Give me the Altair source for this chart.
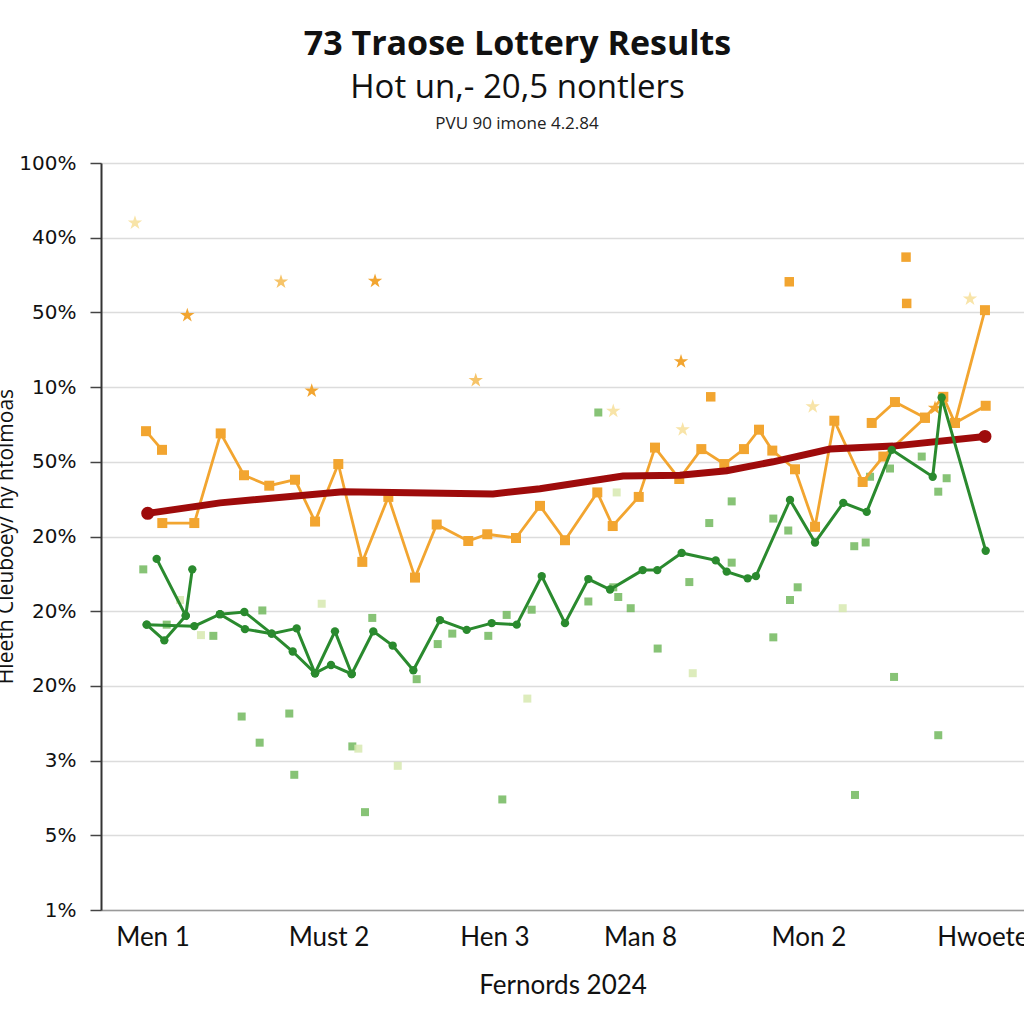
import altair as alt
import pandas as pd

# ---------------- text ----------------
TITLE = "73 Traose Lottery Results"
SUBTITLE = "Hot un,- 20,5 nontlers"
NOTE = "PVU 90 imone 4.2.84"
X_TITLE = "Fernords 2024"
Y_TITLE = "Hleeth Cleuboey/ hy htolmoas"

X_TICKS = [5.58, 24.65, 42.63, 58.40, 76.65, 95.5]
X_LABELS = ["Men 1", "Must 2", "Hen 3", "Man 8", "Mon 2", "Hwoete"]
Y_TICKS = list(range(11))
Y_LABELS = ["1%", "5%", "3%", "20%", "20%", "20%", "50%", "10%", "50%", "40%", "100%"]

# ---------------- data ----------------
RED_X = [5.06, 12.89, 26.22, 42.47, 47.56, 56.55, 62.73, 67.79, 72.81, 78.98, 85.81, 95.77]
RED_Y = [5.31, 5.45, 5.60, 5.57, 5.64, 5.81, 5.82, 5.88, 6.00, 6.17, 6.21, 6.34]

ORANGE_X = [4.88, 6.61,
            6.64, 10.11, 12.97, 15.49, 18.23, 21.02, 23.19, 25.71, 28.31, 31.13, 34.02, 36.37,
            39.79, 41.85, 44.96, 47.56, 50.27, 53.77, 55.44, 58.26, 60.02, 62.65, 65.04, 67.53,
            69.66, 71.29, 72.73, 75.19, 77.36, 79.45, 82.52, 84.76, 89.27, 91.26, 92.52, 95.77,
            83.50, 86.02, 89.27,
            92.52, 95.85]
ORANGE_Y = [6.41, 6.16,
            5.18, 5.18, 6.38, 5.82, 5.68, 5.76, 5.20, 5.97, 4.66, 5.53, 4.45, 5.16,
            4.94, 5.03, 4.98, 5.41, 4.95, 5.59, 5.14, 5.53, 6.19, 5.77, 6.17, 5.97,
            6.17, 6.43, 6.15, 5.90, 5.13, 6.55, 5.73, 6.07, 6.59, 6.87, 6.52, 8.03,
            6.52, 6.80, 6.59,
            6.52, 6.75]
ORANGE_RUN = ["a"] * 2 + ["b"] * 36 + ["c"] * 3 + ["d"] * 2

GREEN_X = [6.03, 9.18, 9.89,
           4.95, 6.86, 9.18,
           4.95, 10.11, 12.89, 15.53, 18.49, 20.77, 23.19, 24.92, 27.16, 29.50, 31.60, 33.84,
           36.73, 39.62, 42.33, 45.04, 47.75, 50.27, 52.80, 55.15, 58.69, 60.27, 62.91, 66.60,
           67.79, 70.06, 70.96, 74.65, 77.36, 80.42, 82.96, 85.67, 90.11, 91.08, 95.85,
           12.89, 15.60, 18.49, 21.20, 23.19, 25.35, 27.16]
GREEN_Y = [4.70, 3.94, 4.56,
           3.82, 3.61, 3.94,
           3.82, 3.80, 3.96, 3.99, 3.70, 3.46, 3.17, 3.28, 3.16, 3.73, 3.54, 3.21,
           3.88, 3.75, 3.84, 3.82, 4.47, 3.84, 4.43, 4.29, 4.55, 4.55, 4.78, 4.68,
           4.53, 4.44, 4.47, 5.49, 4.92, 5.45, 5.33, 6.16, 5.80, 6.86, 4.81,
           3.96, 3.76, 3.70, 3.77, 3.17, 3.73, 3.16]
GREEN_RUN = ["a"] * 3 + ["b"] * 3 + ["c"] * 35 + ["d"] * 7

ORANGE_SC_X = [3.68, 9.35, 19.50, 29.69, 22.83, 40.60, 74.57, 87.22, 87.29, 94.15,
               62.84, 66.06, 55.50, 63.02, 77.11, 90.36]
ORANGE_SC_Y = [9.20, 7.96, 8.41, 8.42, 6.95, 7.09, 8.41, 8.74, 8.12, 8.18,
               7.34, 6.87, 6.68, 6.43, 6.74, 6.72]
ORANGE_SC_SHAPE = ["star", "star", "star", "star", "star", "star", "square", "square", "square", "star",
                   "star", "square", "star", "star", "star", "star"]
ORANGE_SC_TONE = ["pale", "mid", "light", "mid", "mid", "light", "mid", "mid", "mid", "pale",
                  "mid", "mid", "pale", "pale", "pale", "mid"]

GREEN_SC_X = [4.58, 8.56, 7.12, 10.83, 12.17, 17.48, 23.91, 15.24, 20.40, 17.19, 20.94, 27.23,
              27.88, 28.60, 32.15, 29.39, 34.20, 36.48, 38.06, 41.96, 43.95, 46.66, 43.48, 46.19,
              52.80, 56.04, 57.39, 55.50, 60.31, 64.11, 63.74, 65.90, 68.33, 68.33, 72.84, 74.65,
              75.48, 74.46, 72.84, 80.36, 81.61, 82.85, 85.92, 90.71, 81.69, 53.88, 55.87, 85.48,
              88.92, 91.62, 90.71, 83.32]
GREEN_SC_Y = [4.56, 4.15, 3.82, 3.68, 3.67, 4.01, 4.10, 2.59, 2.63, 2.24, 1.81, 2.19,
              2.16, 1.31, 1.93, 3.91, 3.09, 3.56, 3.70, 3.67, 3.95, 4.02, 1.48, 2.83,
              4.13, 4.19, 4.04, 4.32, 3.50, 3.17, 4.39, 5.18, 4.65, 5.47, 3.65, 4.15,
              4.32, 5.08, 5.24, 4.04, 4.87, 4.92, 3.12, 2.34, 1.54, 6.66, 5.59, 5.91,
              6.07, 5.78, 5.60, 5.80]
GREEN_SC_TONE = ["light", "pale", "light", "pale", "light", "light", "pale", "light", "light", "light", "light", "light",
                 "pale", "light", "pale", "light", "light", "light", "light", "light", "light", "light", "light", "pale",
                 "light", "light", "light", "light", "light", "pale", "light", "light", "light", "light", "light", "light",
                 "light", "light", "light", "pale", "light", "light", "light", "light", "light", "light", "pale", "light",
                 "light", "light", "light", "light"]

STAR_PATH = ("M0,-1L0.2245,-0.309L0.951,-0.309L0.363,0.118L0.588,0.809L0,0.382"
             "L-0.588,0.809L-0.363,0.118L-0.951,-0.309L-0.2245,-0.309Z")

# ---------------- tables ----------------
red = pd.DataFrame({"x": RED_X, "y": RED_Y, "i": range(len(RED_X))})
red_ends = red.iloc[[0, -1]].reset_index(drop=True)
orange = pd.DataFrame({"x": ORANGE_X, "y": ORANGE_Y, "run": ORANGE_RUN, "i": range(len(ORANGE_X))})
green = pd.DataFrame({"x": GREEN_X, "y": GREEN_Y, "run": GREEN_RUN, "i": range(len(GREEN_X))})
orange_sc = pd.DataFrame({"x": ORANGE_SC_X, "y": ORANGE_SC_Y, "shape": ORANGE_SC_SHAPE, "tone": ORANGE_SC_TONE})
green_sc = pd.DataFrame({"x": GREEN_SC_X, "y": GREEN_SC_Y, "tone": GREEN_SC_TONE})

# ---------------- axes ----------------
x_label_expr = "[" + ",".join("'%s'" % s for s in X_LABELS) + "][indexof([" + ",".join(str(v) for v in X_TICKS) + "], datum.value)]"
y_label_expr = "[" + ",".join("'%s'" % s for s in Y_LABELS) + "][datum.value]"

x_axis = alt.Axis(values=X_TICKS, labelExpr=x_label_expr, title=X_TITLE, grid=False, ticks=False,
                  orient="bottom",
                  domainColor="#9a9a9a", domainWidth=1.5, labelFont="Lato", labelFontSize=26,
                  labelColor="#111111", labelPadding=14, labelFlush=False, labelOverlap=False,
                  titleFont="Lato", titleFontSize=26, titleFontWeight="normal", titleColor="#111111",
                  titlePadding=22)
y_axis = alt.Axis(values=Y_TICKS, labelExpr=y_label_expr, title=Y_TITLE, grid=True, gridColor="#dcdcdc",
                  orient="left",
                  gridWidth=1.5, tickSize=11, tickColor="#444444", tickWidth=1.5, domainColor="#333333",
                  domainWidth=2, labelFont="DejaVu Sans", labelFontSize=20, labelColor="#111111",
                  labelPadding=14, titleFont="Open Sans", titleFontSize=21, titleFontWeight="normal",
                  titleColor="#111111", titleAngle=270, titleX=-85, titleY=373, titleBaseline="bottom",
                  titleAlign="center")

X = alt.X("x:Q", scale=alt.Scale(domain=[0, 100], nice=False, zero=False), axis=x_axis)
Y = alt.Y("y:Q", scale=alt.Scale(domain=[0, 10], nice=False, zero=False), axis=y_axis)

# ---------------- layers ----------------
green_base = alt.Chart(green_sc).encode(x=X, y=Y)
green_pts_light = green_base.transform_filter(alt.datum.tone == "light").mark_point(
    filled=True, shape="square", size=64, strokeWidth=0, color="#72b85e", opacity=0.85)
green_pts_pale = green_base.transform_filter(alt.datum.tone == "pale").mark_point(
    filled=True, shape="square", size=64, strokeWidth=0, color="#d7e9b0", opacity=0.85)

orange_base = alt.Chart(orange_sc).encode(x=X, y=Y)
orange_layers = []
for tone, col in [("pale", "#f8e4a8"), ("light", "#f6c469"), ("mid", "#f2a530")]:
    for shp, sym, sz in [("star", STAR_PATH, 230), ("square", "square", 90)]:
        orange_layers.append(
            orange_base.transform_filter((alt.datum.tone == tone) & (alt.datum.shape == shp)).mark_point(
                filled=True, shape=sym, size=sz, strokeWidth=0, color=col, opacity=1)
        )

orange_line = alt.Chart(orange).mark_line(
    color="#f2a530", strokeWidth=2.8,
    point=alt.OverlayMarkDef(shape="square", size=100, filled=True, color="#f2a530", opacity=1),
).encode(x=X, y=Y, detail="run:N", order="i:Q")

red_line = alt.Chart(red).mark_line(color="#9e0b0b", strokeWidth=7).encode(x=X, y=Y, order="i:Q")
red_dots = alt.Chart(red_ends).mark_point(filled=True, shape="circle", size=170, color="#9e0b0b",
                                          opacity=1, strokeWidth=0).encode(x=X, y=Y)

green_line = alt.Chart(green).mark_line(
    color="#2a8a2e", strokeWidth=3,
    point=alt.OverlayMarkDef(shape="circle", size=70, filled=True, color="#2a8a2e", opacity=1),
).encode(x=X, y=Y, detail="run:N", order="i:Q")

note = alt.Chart(pd.DataFrame({"t": [NOTE]})).mark_text(
    font="Open Sans", fontSize=17, color="#222222", align="center", baseline="middle"
).encode(text="t:N", x=alt.value(416), y=alt.value(-39))

chart = alt.layer(green_pts_light, green_pts_pale, *orange_layers, orange_line, red_line, red_dots,
                  green_line, note).properties(
    width=923, height=747,
    title=alt.TitleParams(text=TITLE, subtitle=SUBTITLE, font="Open Sans", fontSize=34, fontWeight="bold",
                          color="#111111", subtitleFont="Open Sans", subtitleFontSize=33,
                          subtitleColor="#111111", anchor="middle", dx=-45, offset=10, subtitlePadding=10),
    autosize=alt.AutoSizeParams(type="none"),
    padding={"left": 101, "top": 163, "right": 0, "bottom": 114},
).configure_view(stroke=None).configure(background="white")

chart.save("out.html", embed_options={"renderer": "svg", "actions": False})
